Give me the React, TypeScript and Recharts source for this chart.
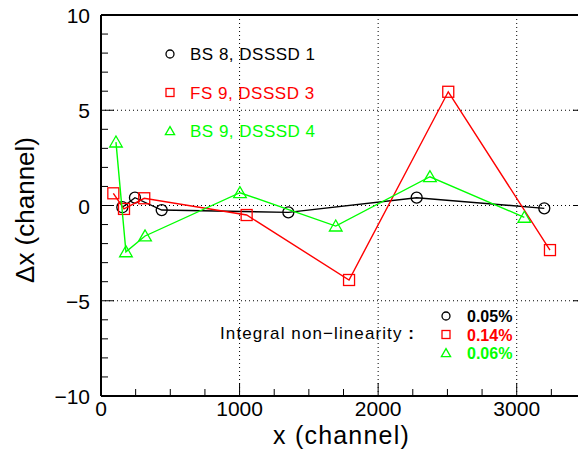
import React from 'react';
import { ScatterChart, Scatter, XAxis, YAxis, ReferenceLine, Legend } from 'recharts';

const FONT = '"Liberation Sans", Arial, Helvetica, sans-serif';

// measured points (x in channel, dx in channel)
const bs8X = [154, 245, 438, 1352, 2278, 3199];
const bs8Y = [-0.09, 0.41, -0.24, -0.36, 0.41, -0.15];
const fs9X = [89, 166, 312, 1051, 1790, 2506, 3240];
const fs9Y = [0.64, -0.18, 0.38, -0.5, -3.91, 5.97, -2.34];
const bs9X = [108, 180, 318, 1003, 1694, 2374, 3055];
const bs9Y = [3.33, -2.43, -1.6, 0.67, -1.08, 1.51, -0.62];

const seriesNames = ['BS 8, DSSSD 1', 'FS 9, DSSSD 3', 'BS 9, DSSSD 4'];
const seriesColors = ['#000000', '#ff0000', '#00ff00'];
const seriesShapes = ['circle', 'square', 'triangle'];
const nonLinearity = ['0.05%', '0.14%', '0.06%'];

const xTicks = [0, 250, 500, 750, 1000, 1250, 1500, 1750, 2000, 2250, 2500, 2750, 3000, 3250, 3500];
const xMajor = [0, 1000, 2000, 3000];
const xGrid = [1000, 2000, 3000];
const yTicks = [-10, -9, -8, -7, -6, -5, -4, -3, -2, -1, 0, 1, 2, 3, 4, 5, 6, 7, 8, 9, 10];
const yMajor = [-10, -5, 0, 5, 10];
const yGrid = [-5, 0, 5];

const toPoints = (xs: number[], ys: number[]) => xs.map((x, i) => ({ x, y: ys[i] }));
const bs8 = toPoints(bs8X, bs8Y);
const fs9 = toPoints(fs9X, fs9Y);
const bs9 = toPoints(bs9X, bs9Y);

const Marker = ({ cx, cy, kind, color, s }: any) => {
  if (kind === 'circle') {
    return <circle cx={cx} cy={cy} r={s} fill="none" stroke={color} strokeWidth={1.3} />;
  }
  if (kind === 'square') {
    return <rect x={cx - s} y={cy - s} width={2 * s} height={2 * s} fill="none" stroke={color} strokeWidth={1.3} />;
  }
  const pts = `${cx},${cy - s * 1.1} ${cx - s * 1.15},${cy + s * 0.9} ${cx + s * 1.15},${cy + s * 0.9}`;
  return <polygon points={pts} fill="none" stroke={color} strokeWidth={1.3} />;
};

const shapeFor = (i: number) => (props: any) => (
  <Marker cx={props.cx} cy={props.cy} kind={seriesShapes[i]} color={seriesColors[i]} s={5.5} />
);

const BottomTick = ({ x, y, payload }: any) => {
  const major = xMajor.includes(payload.value);
  return (
    <g>
      <line x1={x} y1={y} x2={x} y2={y - (major ? 13 : 7)} stroke="#000" strokeWidth={1} />
      {major && (
        <text x={x} y={y + 20} textAnchor="middle" fontSize={21} fontFamily={FONT} fill="#000">
          {payload.value}
        </text>
      )}
    </g>
  );
};

const TopTick = ({ x, y, payload }: any) => {
  const major = xMajor.includes(payload.value);
  return <line x1={x} y1={y} x2={x} y2={y + (major ? 13 : 7)} stroke="#000" strokeWidth={1} />;
};

const LeftTick = ({ x, y, payload }: any) => {
  const major = yMajor.includes(payload.value);
  const v = payload.value;
  return (
    <g>
      <line x1={x} y1={y} x2={x + (major ? 13 : 7)} y2={y} stroke="#000" strokeWidth={1} />
      {major && (
        <text x={x - 11} y={y + 8} textAnchor="end" fontSize={21} fontFamily={FONT} fill="#000">
          {v < 0 ? `\u2212${-v}` : v}
        </text>
      )}
    </g>
  );
};

const RightTick = ({ x, y, payload }: any) => {
  const major = yMajor.includes(payload.value);
  return <line x1={x} y1={y} x2={x - (major ? 13 : 7)} y2={y} stroke="#000" strokeWidth={1} />;
};

const XTitle = ({ viewBox }: any) => (
  <text
    x={viewBox.x + viewBox.width / 2 - 2}
    y={444}
    textAnchor="middle"
    fontSize={25}
    letterSpacing={1.2}
    fontFamily={FONT}
    fill="#000"
  >
    x (channel)
  </text>
);

const YTitle = () => (
  <text x={0} y={0} transform="translate(34,210) rotate(-90)" textAnchor="middle" fontSize={26} fontFamily={FONT} fill="#000">
    Δx (channel)
  </text>
);

const LegendBox = () => (
  <svg width={578} height={464} style={{ position: 'absolute', left: 0, top: 0 }}>
    {seriesNames.map((name, i) => {
      const cy = 54 + i * 38.5;
      return (
        <g key={name}>
          <Marker cx={170} cy={cy} kind={seriesShapes[i]} color={seriesColors[i]} s={4} />
          <text x={190} y={cy + 6} fontSize={17} letterSpacing={0.5} fontFamily={FONT} fill={seriesColors[i]}>
            {name}
          </text>
        </g>
      );
    })}
    <text x={220} y={339} fontSize={17} letterSpacing={1.1} fontFamily={FONT} fill="#000">
      Integral non{'\u2212'}linearity <tspan fontWeight="bold">:</tspan>
    </text>
    {nonLinearity.map((v, i) => {
      const cy = 316 + i * 18.5;
      return (
        <g key={v + i}>
          <Marker cx={446} cy={cy} kind={seriesShapes[i]} color={seriesColors[i]} s={4} />
          <text x={467} y={cy + 6} fontSize={16} fontWeight="bold" fontFamily={FONT} fill={seriesColors[i]}>
            {v}
          </text>
        </g>
      );
    })}
  </svg>
);

export default function App() {
  return (
    <div style={{ position: 'absolute', left: 0, top: 0, width: 578, height: 464, overflow: 'hidden', background: '#fff' }}>
      <ScatterChart width={590} height={464} margin={{ top: 14, right: 3, bottom: 67, left: 100 }}>
        <XAxis
          type="number"
          dataKey="x"
          domain={[0, 3500]}
          ticks={xTicks}
          interval={0}
          height={1}
          tickSize={0}
          tickMargin={0}
          tick={<BottomTick />}
          axisLine={{ stroke: '#000', strokeWidth: 2 }}
          allowDataOverflow
          label={XTitle}
        />
        <XAxis
          xAxisId="top"
          orientation="top"
          type="number"
          domain={[0, 3500]}
          ticks={xTicks}
          interval={0}
          height={1}
          tickSize={0}
          tickMargin={0}
          tick={<TopTick />}
          axisLine={{ stroke: '#000', strokeWidth: 2 }}
          allowDataOverflow
        />
        <YAxis
          type="number"
          dataKey="y"
          domain={[-10, 10]}
          ticks={yTicks}
          interval={0}
          width={1}
          tickSize={0}
          tickMargin={0}
          tick={<LeftTick />}
          axisLine={{ stroke: '#000', strokeWidth: 2 }}
          allowDataOverflow
          label={YTitle}
        />
        <YAxis
          yAxisId="right"
          orientation="right"
          type="number"
          domain={[-10, 10]}
          ticks={yTicks}
          interval={0}
          width={1}
          tickSize={0}
          tickMargin={0}
          tick={<RightTick />}
          axisLine={{ stroke: '#000', strokeWidth: 2 }}
          allowDataOverflow
        />
        {xGrid.map((v) => (
          <ReferenceLine key={'gx' + v} x={v} stroke="#000" strokeWidth={1} strokeDasharray="1 3" />
        ))}
        {yGrid.map((v) => (
          <ReferenceLine key={'gy' + v} y={v} stroke="#000" strokeWidth={1} strokeDasharray="1 3" />
        ))}
        <Scatter
          data={bs8}
          isAnimationActive={false}
          line={{ stroke: seriesColors[0], strokeWidth: 1.4 }}
          shape={shapeFor(0)}
        />
        <Scatter
          data={fs9}
          isAnimationActive={false}
          line={{ stroke: seriesColors[1], strokeWidth: 1.4 }}
          shape={shapeFor(1)}
        />
        <Scatter
          data={bs9}
          isAnimationActive={false}
          line={{ stroke: seriesColors[2], strokeWidth: 1.4 }}
          shape={shapeFor(2)}
        />
        <Legend
          layout="vertical"
          align="center"
          verticalAlign="middle"
          wrapperStyle={{ left: 0, top: 0, width: 578, height: 464, pointerEvents: 'none' }}
          content={() => <LegendBox />}
        />
      </ScatterChart>
    </div>
  );
}
